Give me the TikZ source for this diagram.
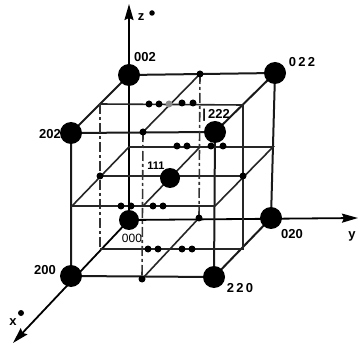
\documentclass[tikz,border=0pt]{standalone}
\usepackage{fontspec}
\setmainfont{Liberation Sans}
\usetikzlibrary{arrows.meta}
\tikzset{
  big/.style={circle,fill=black,inner sep=0pt,minimum size=22pt},
  mid/.style={circle,fill=black,inner sep=0pt,minimum size=20pt},
  small/.style={circle,fill=black,inner sep=0pt,minimum size=7pt},
  grey/.style={circle,fill=black!45,inner sep=0pt,minimum size=7pt},
  lab/.style={inner sep=0pt,font=\fontsize{13}{13}\selectfont\bfseries},
  edge/.style={line width=2pt,black!90},
  thin line/.style={line width=1.6pt,black!85},
  dashline/.style={line width=1.6pt,black!80,dash pattern=on 10pt off 3pt on 3pt off 3pt},
  axis/.style={line width=1.8pt,-{Stealth[length=16pt,width=9pt,inset=2pt]}}
}
\begin{document}
\begin{tikzpicture}[x=1pt,y=-1pt]
\useasboundingbox (0,0) rectangle (361,347);
\fill[white] (0,0) rectangle (361,347);
% corners and axis ends
\coordinate (O) at (129,220);
\coordinate (Z) at (129,75);
\coordinate (Y) at (271,218);
\coordinate (YZ) at (275,73);
\coordinate (X) at (71,276);
\coordinate (XZ) at (71,133);
\coordinate (XY) at (214,277);
\coordinate (XYZ) at (215,132);
\coordinate (C) at (170,178);
\coordinate (zend) at (129,4);
\coordinate (yend) at (358,218);
\coordinate (xend) at (13,343);
% mid-plane points
\coordinate (a1) at (100,104);
\coordinate (a2) at (243,105);
\coordinate (a3) at (100,249);
\coordinate (a4) at (243,249);
\coordinate (b1) at (129,147);
\coordinate (b2) at (273,147);
\coordinate (b3) at (72,206);
\coordinate (b4) at (215,206);
\coordinate (c1) at (100,176);
\coordinate (c2) at (243,176);
\coordinate (d1) at (200,74);
\coordinate (d2) at (143,132);
\coordinate (d3) at (199,218);
\coordinate (d4) at (142,279);
\coordinate (e1) at (200,147);
\coordinate (e2) at (143,206);
% axes
\draw[axis] (O) -- (zend);
\draw[axis] (O) -- (yend);
\draw[axis] (O) -- (xend);
% cube edges
\draw[edge] (Z) -- (YZ) -- (Y);
\draw[edge] (Z) -- (XZ) -- (X) -- (XY) -- (Y);
\draw[edge] (XZ) -- (XYZ) -- (XY);
\draw[edge] (YZ) -- (XYZ);
% planes
\draw[thin line] (a1) -- (a2) -- (a4) -- (a3);
\draw[dashline] (a1) -- (a3);
\draw[thin line] (b1) -- (b2) -- (b4) -- (b3) -- cycle;
\draw[thin line] (c1) -- (c2);
\draw[thin line] (d1) -- (d2);
\draw[thin line] (d3) -- (d4);
\draw[thin line] (e1) -- (e2);
\draw[dashline] (d1) -- (d3);
\draw[dashline] (d2) -- (d4);
% big reciprocal lattice points
\node[big] (n002) at (Z) {};
\node[big] (n022) at (YZ) {};
\node[big] (n202) at (XZ) {};
\node[big] (n222) at (XYZ) {};
\node[big] (n200) at (X) {};
\node[big] (n220) at (XY) {};
\node[big] (n020) at (Y) {};
\node[mid] (n000) at (O) {};
\node[mid] (n111) at (C) {};
% small points
\foreach \p in {(d1),(d2),(d3),(d4),(c1),(c2),
  (149,104),(159,104),(182,103),(193,103),
  (177,146),(187,146),(211,146),(223,146),
  (121,206),(131,206),(153,206),(163,206),
  (148,249),(158,249),(182,249),(192,249)}
  \node[small] at \p {};
\node[grey] at (169,104) {};
% labels
\node[lab] at (145,57) {002};
\node[lab] at (302,62) {0\,2\,2};
\node[lab] at (50,134) {202};
\node[lab] at (216,115) {|\,222};
\node[lab,font=\fontsize{11}{11}\selectfont\bfseries] at (156,166) {111};
\node[lab,font=\fontsize{12}{12}\selectfont] at (132,238) {000};
\node[lab] at (292,234) {020};
\node[lab] at (45,270) {200};
\node[lab] at (240,288) {2\,2\,0};
\node[lab] at (141,17) {z};
\node[small,minimum size=5.5pt] at (152,13) {};
\node[lab] at (352,236) {y};
\node[lab] at (13,322) {x};
\node[small,minimum size=6pt] at (21,313) {};
\end{tikzpicture}
\end{document}
